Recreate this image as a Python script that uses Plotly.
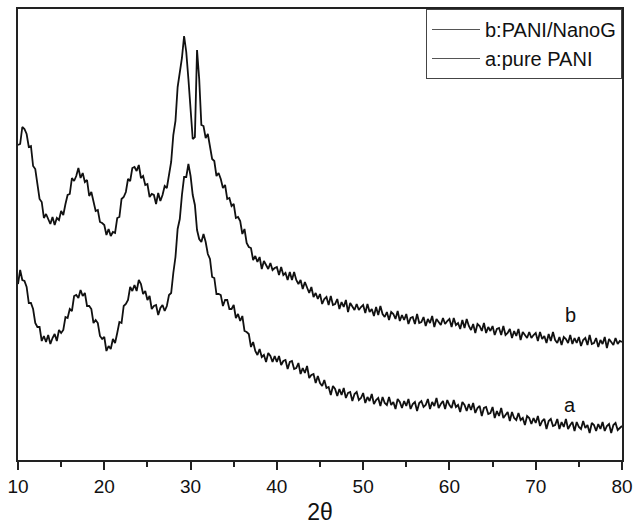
import plotly.graph_objects as go

# 2θ sampling grid (degrees), 0.25° step from 10 to 80
two_theta = [10 + 0.25 * i for i in range(281)]

# b: PANI/NanoG diffraction intensity (a.u.), four samples per degree
intensity_b = [
    315, 316, 333, 331,  326, 313, 314, 294,  291, 274, 261, 258,  242, 246, 241, 236,
    243, 235, 242, 240,  249, 245, 256, 265,  266, 282, 279, 284,  292, 282, 287, 278,
    280, 264, 268, 258,  249, 250, 238, 237,  235, 225, 231, 224,  228, 227, 242, 243,
    261, 263, 268, 281,  279, 292, 293, 289,  295, 282, 284, 275,  276, 263, 266, 265,
    256, 267, 259, 265,  274, 272, 287, 298,  325, 339, 373, 388,  402, 424, 408, 381,
    353, 321, 323, 410,  381, 335, 334, 322,  326, 311, 301, 299,  284, 287, 281, 272,
    275, 261, 262, 254,  256, 242, 243, 239,  226, 231, 217, 213,  212, 200, 204, 198,
    203, 191, 199, 195,  191, 197, 190, 192,  193, 185, 193, 185,  187, 180, 188, 180,
    188, 180, 176, 180,  171, 178, 173, 167,  173, 163, 167, 161,  166, 156, 161, 163,
    155, 164, 155, 156,  161, 151, 158, 153,  160, 148, 157, 153,  150, 156, 150, 153,
    155, 147, 156, 148,  151, 144, 153, 145,  154, 146, 143, 148,  140, 148, 146, 141,
    149, 139, 145, 140,  146, 136, 142, 143,  136, 146, 137, 138,  143, 134, 141, 137,
    144, 133, 141, 138,  135, 142, 136, 139,  141, 133, 142, 135,  137, 131, 140, 132,
    141, 134, 130, 136,  127, 136, 134, 129,  137, 127, 133, 129,  134, 125, 131, 132,
    125, 134, 125, 127,  131, 122, 129, 124,  131, 120, 128, 125,  122, 128, 122, 125,
    127, 119, 128, 121,  124, 117, 126, 119,  128, 120, 117, 123,  115, 123, 121, 117,
    125, 116, 122, 117,  123, 114, 120, 122,  115, 125, 116, 117,  122, 113, 120, 116,
    123, 112, 121, 118,  115, 122, 116, 119,  118,
]

# a: pure PANI diffraction intensity (a.u.), four samples per degree
intensity_a = [
    176, 190, 180, 179,  173, 157, 157, 151,  137, 133, 133, 119,  124, 118, 125, 116,
    122, 126, 119, 130,  127, 130, 143, 142,  151, 149, 164, 165,  162, 170, 164, 167,
    154, 154, 151, 137,  140, 137, 124, 121,  123, 109, 114, 111,  121, 117, 127, 138,
    137, 154, 156, 160,  173, 169, 175, 169,  180, 176, 166, 169,  160, 164, 151, 154,
    155, 145, 152, 155,  149, 154, 165, 167,  187, 203, 231, 241,  265, 283, 283, 296,
    284, 265, 255, 230,  221, 218, 226, 218,  206, 201, 183, 182,  166, 166, 165, 154,
    160, 160, 151, 151,  155, 142, 146, 139,  144, 129, 128, 126,  113, 118, 109, 105,
    111, 103, 105, 98,   107, 104, 98, 104,   98, 104, 95, 99,    100, 91, 98, 99,
    91, 92, 97, 86,      92, 87, 94, 82,      85, 86, 77, 84,      77, 74, 80, 72,
    73, 65, 74, 71,      64, 71, 65, 72,      62, 67, 68, 59,      66, 68, 60, 62,
    67, 57, 63, 59,      66, 56, 60, 62,      54, 63, 57, 55,      63, 55, 58, 51,
    61, 58, 52, 59,      54, 61, 51, 56,      58, 49, 57, 59,      53, 55, 61, 51,
    58, 54, 62, 52,      56, 59, 51, 60,      55, 52, 60, 53,      55, 48, 58, 55,
    49, 56, 50, 57,      47, 52, 54, 44,      52, 53, 46, 47,      53, 42, 49, 44,
    52, 42, 45, 48,      39, 48, 42, 40,      47, 40, 42, 35,      44, 42, 36, 42,
    37, 44, 34, 39,      41, 31, 39, 41,      34, 35, 41, 31,      38, 33, 41, 31,
    35, 38, 29, 38,      33, 31, 39, 32,      35, 27, 37, 35,      29, 36, 31, 38,
    29, 34, 36, 27,      35, 37, 30, 32,      34,
]

legend_names = ["b:PANI/NanoG", "a:pure PANI"]
curve_labels = ["b", "a"]
label_pos_x = 74
label_heights = [145, 55]

FONT = "Liberation Sans, Arial, sans-serif"
INK = "#111111"

fig = go.Figure()

# measured patterns (kept out of the legend)
for name, ys in zip(legend_names, [intensity_b, intensity_a]):
    fig.add_trace(go.Scatter(
        x=two_theta, y=ys, mode="lines", name=name, showlegend=False,
        line=dict(color=INK, width=1.8),
    ))

# legend entries drawn with a thin grey key line
for name in legend_names:
    fig.add_trace(go.Scatter(
        x=[None], y=[None], mode="lines", name=name,
        line=dict(color="#555555", width=1),
    ))

for lab, h in zip(curve_labels, label_heights):
    fig.add_annotation(
        x=label_pos_x, y=h, text=lab, showarrow=False,
        font=dict(family=FONT, size=20, color="#111"),
    )

fig.update_layout(
    width=633, height=530,
    margin=dict(l=18, r=11, t=9, b=70, autoexpand=False),
    paper_bgcolor="white", plot_bgcolor="white",
    font=dict(family=FONT, color="#111"),
    showlegend=True,
    legend=dict(
        x=1, xanchor="right", y=1, yanchor="top",
        bgcolor="white", bordercolor="#444", borderwidth=1,
        font=dict(family=FONT, size=20, color="#111"),
        tracegroupgap=0, itemwidth=48,
    ),
    xaxis=dict(
        range=[10, 80], showgrid=False, zeroline=False, automargin=False,
        showline=True, linecolor="#222", linewidth=2, mirror=True,
        ticks="outside", ticklen=8, tickwidth=1.5, tickcolor="#222",
        tickvals=[10, 20, 30, 40, 50, 60, 70, 80],
        tickfont=dict(family=FONT, size=19, color="#111"),
        minor=dict(ticks="outside", ticklen=5, tickwidth=1.5,
                   tickcolor="#222", dtick=5, showgrid=False),
        title=dict(text="2θ", font=dict(family=FONT, size=23, color="#111"),
                   standoff=8),
    ),
    yaxis=dict(
        range=[0, 451], showgrid=False, zeroline=False, automargin=False,
        showline=True, linecolor="#222", linewidth=2, mirror=True,
        ticks="", showticklabels=False,
    ),
)

fig.write_html("out.html")
